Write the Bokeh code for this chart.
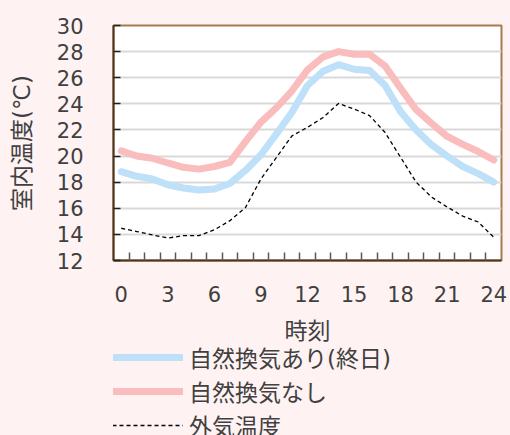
from bokeh.plotting import figure
from bokeh.layouts import column
from bokeh.models import FixedTicker, Legend, LegendItem
from bokeh.embed import file_html
from bokeh.resources import INLINE

# ---- data ----
hours = list(range(25))
vent_on = [18.8, 18.45, 18.25, 17.8, 17.55, 17.4, 17.48, 17.9, 18.9, 20.1, 21.7, 23.35, 25.4,
           26.5, 27.0, 26.65, 26.55, 25.4, 23.4, 22.0, 20.85, 20.0, 19.2, 18.65, 18.0]
vent_off = [20.4, 20.0, 19.83, 19.47, 19.14, 19.0, 19.2, 19.52, 21.1, 22.6, 23.7, 25.0, 26.6,
            27.6, 28.0, 27.8, 27.8, 26.9, 25.2, 23.55, 22.5, 21.5, 20.9, 20.35, 19.7]
outdoor = [14.47, 14.22, 13.96, 13.72, 13.9, 13.9, 14.35, 15.05, 16.05, 18.25, 19.9, 21.55, 22.2,
           22.95, 24.03, 23.6, 23.1, 21.8, 19.9, 18.0, 16.85, 16.1, 15.4, 14.95, 13.78]
x_ticks = [0, 3, 6, 9, 12, 15, 18, 21, 24]
y_ticks = [12, 14, 16, 18, 20, 22, 24, 26, 28, 30]

name_on = "自然換気あり(終日)"
name_off = "自然換気なし"
name_out = "外気温度"

FONT = "'DejaVu Sans', 'Noto Sans CJK JP'"
TXT = "#404040"
BG = "#FEF2F2"
C_ON = "#BEE0F8"
C_OFF = "#F9BDBD"

p = figure(width=510, height=346, output_backend="svg", toolbar_location=None,
           x_range=(-0.5, 24.5), y_range=(12, 30),
           min_border_left=113, min_border_right=9, min_border_top=25, min_border_bottom=86)

p.background_fill_color = "white"
p.border_fill_color = BG
p.outline_line_color = "#A87B4F"
p.outline_line_width = 2

p.xgrid.visible = False
p.ygrid.grid_line_color = "#D9D9D9"
p.ygrid.grid_line_width = 2

p.xaxis.ticker = FixedTicker(ticks=x_ticks, minor_ticks=[h + 0.5 for h in hours[:-1]])
p.yaxis.ticker = FixedTicker(ticks=y_ticks)

for ax in (p.xaxis[0], p.yaxis[0]):
    ax.axis_line_color = "#4B3621"
    ax.axis_line_width = 2
    ax.major_label_text_font = FONT
    ax.major_label_text_font_size = "21px"
    ax.major_label_text_color = TXT
    ax.axis_label_text_font = FONT
    ax.axis_label_text_font_size = "23px"
    ax.axis_label_text_font_style = "normal"
    ax.axis_label_text_color = TXT

p.xaxis.major_tick_in = 0
p.xaxis.major_tick_out = 0
p.xaxis.minor_tick_in = 8
p.xaxis.minor_tick_out = 0
p.xaxis.minor_tick_line_color = "#595959"
p.xaxis.minor_tick_line_width = 1.5
p.xaxis.major_label_standoff = 25
p.xaxis.axis_label = "時刻"
p.xaxis.axis_label_standoff = 13

p.yaxis.major_tick_in = 7
p.yaxis.major_tick_out = 0
p.yaxis.major_tick_line_color = "#222222"
p.yaxis.major_tick_line_width = 1.5
p.yaxis.minor_tick_in = 0
p.yaxis.minor_tick_out = 0
p.yaxis.major_label_standoff = 30
p.yaxis.axis_label = "室内温度(℃)"
p.yaxis.axis_label_standoff = 19

p.line(hours, vent_on, line_color=C_ON, line_width=7, line_join="round", line_cap="round")
p.line(hours, vent_off, line_color=C_OFF, line_width=7, line_join="round", line_cap="round")
p.line(hours, outdoor, line_color="black", line_width=1.3, line_dash="4 3")

# legend panel below the chart (series lie outside its 0..1 view, only the legend shows)
lg = figure(width=510, height=89, output_backend="svg", toolbar_location=None,
            x_range=(0, 1), y_range=(0, 1), x_axis_type=None, y_axis_type=None,
            min_border_left=0, min_border_right=0, min_border_top=0, min_border_bottom=0)
lg.grid.visible = False
lg.outline_line_color = None
lg.background_fill_color = BG
lg.border_fill_color = BG
k_on = lg.line(hours, vent_on, line_color=C_ON, line_width=7, line_cap="round")
k_off = lg.line(hours, vent_off, line_color=C_OFF, line_width=7, line_cap="round")
k_out = lg.line(hours, outdoor, line_color="black", line_width=1.3, line_dash="4 3")

legend = Legend(items=[LegendItem(label=name_on, renderers=[k_on]),
                       LegendItem(label=name_off, renderers=[k_off]),
                       LegendItem(label=name_out, renderers=[k_out])],
                location=(-1, -7), border_line_color=None, background_fill_alpha=0,
                glyph_width=71, glyph_height=26, label_height=26, spacing=0,
                padding=0, margin=0, label_standoff=6, label_text_line_height=0.95,
                label_text_font=FONT, label_text_font_size="23px", label_text_color=TXT)
lg.add_layout(legend)

html = file_html(column(p, lg, spacing=0), INLINE)
html = html.replace("</head>", "<style>html,body{background:%s;overflow:hidden}</style></head>" % BG, 1)
open("out.html", "w").write(html)
